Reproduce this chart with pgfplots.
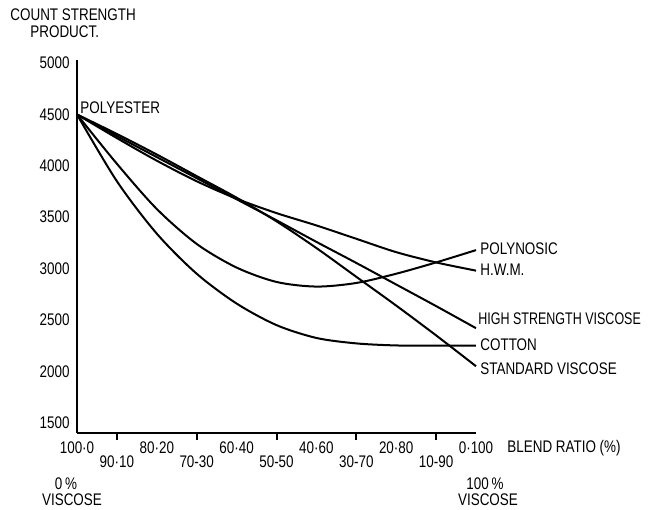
\documentclass[border=0pt]{standalone}
\usepackage{fontspec}
\setmainfont{Liberation Sans}[FakeStretch=0.8]
\usepackage{pgfplots}
\pgfplotsset{compat=1.18}
\begin{document}
\begin{tikzpicture}
\path[use as bounding box] (0pt,0pt) rectangle (325pt,255pt);
\begin{axis}[
 at={(38.5pt,38.5pt)}, anchor=south west,
 width=199.5pt, height=186.5pt, scale only axis,
 xmin=0, xmax=10, ymin=1400, ymax=5030,
 axis lines=left,
 axis line style={line width=1pt, -},
 /pgf/number format/assume math mode=true,
 /pgf/number format/1000 sep={},
 ytick={1500,2000,2500,3000,3500,4000,4500,5000},
 major tick length=0pt,
 tick label style={font=\fontsize{8.4}{9}\selectfont},
 yticklabel style={inner sep=0pt, xshift=-3.5pt},
 xticklabel style={inner sep=0pt, anchor=north, yshift=-4pt},
 xtick={0,2,4,6,8,10},
 xticklabels={100·0,80·20,60·40,40·60,20·80,0·100},
 extra x ticks={1,3,5,7,9},
 extra x tick labels={90·10,70-30,50-50,30-70,10-90},
 extra x tick style={major tick length=3.5pt, tick align=outside,
   tick style={line width=1pt, black},
   xticklabel style={yshift=-3.5pt}},
 clip=false,
]
\addplot[black, line width=1pt, smooth, tension=0.5, mark=none] coordinates {
 (0,4500)(1,3850)(2,3340)(3,2950)(4,2660)(5,2450)(6,2325)(7,2272)(8,2252)(9,2250)(10,2250)};
\addplot[black, line width=1pt, smooth, tension=0.5, mark=none] coordinates {
 (0,4500)(1,4020)(2,3580)(3,3240)(4,3010)(5,2870)(6,2825)(7,2860)(8,2950)(9,3060)(10,3180)};
\addplot[black, line width=1pt, smooth, tension=0.5, mark=none] coordinates {
 (0,4500)(1,4270)(2,4050)(3,3850)(4,3680)(5,3540)(6,3420)(7,3290)(8,3160)(9,3060)(10,2980)};
\addplot[black, line width=1pt, smooth, tension=0.5, mark=none] coordinates {
 (0,4500)(1,4290)(2,4085)(3,3880)(4,3675)(5,3470)(6,3260)(7,3055)(8,2845)(9,2635)(10,2420)};
\addplot[black, line width=1pt, smooth, tension=0.5, mark=none] coordinates {
 (0,4500)(1,4310)(2,4110)(3,3900)(4,3690)(5,3460)(6,3200)(7,2920)(8,2640)(9,2350)(10,2050)};
\end{axis}
\begin{scope}[every node/.style={inner sep=0pt, font=\fontsize{8.4}{9}\selectfont}]
\node[anchor=west] at (5pt,247.75pt) {COUNT STRENGTH};
\node[anchor=west] at (15pt,239pt) {PRODUCT.};
\node[anchor=west] at (40pt,201pt) {POLYESTER};
\node[anchor=west] at (240pt,130.5pt) {POLYNOSIC};
\node[anchor=west] at (240pt,120pt) {H.W.M.};
\node[anchor=west] at (239pt,95.5pt) {\scalebox{0.93}[1]{HIGH STRENGTH VISCOSE}};
\node[anchor=west] at (240pt,82.5pt) {COTTON};
\node[anchor=west] at (240pt,70.5pt) {STANDARD VISCOSE};
\node[anchor=west] at (253.5pt,31pt) {BLEND RATIO (\%)};
\node at (33pt,13.2pt) {0\,\%};
\node at (36pt,5pt) {VISCOSE};
\node at (242.5pt,13.2pt) {100\,\%};
\node at (244pt,5pt) {VISCOSE};
\end{scope}
\end{tikzpicture}
\end{document}
